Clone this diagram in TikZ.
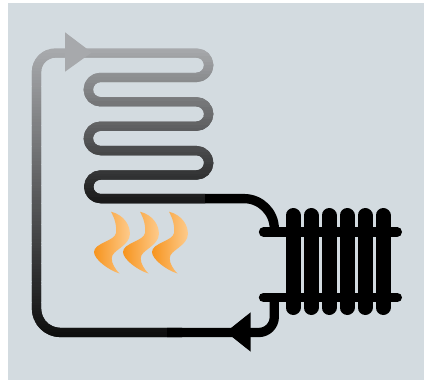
\documentclass[tikz,border=0pt]{standalone}
\usepackage{xcolor}
\usepackage{tikz}
\definecolor{wallbg}{HTML}{D3DBE0}
\definecolor{pipegray}{HTML}{A7A9AC}
\definecolor{flameA}{HTML}{F7941E}
\definecolor{flameB}{HTML}{FDCB8C}
\tikzset{
  pipe/.style={line width=9.3pt,line cap=butt,line join=round},
  fin/.style={line width=15pt,line cap=round,black},
  bar/.style={line width=9.6pt,line cap=round,black},
  tip/.style={draw=none,fill=#1}
}
% strips of one path, top to bottom, paler to darker
\newcommand{\pband}[4]{%
  \foreach \i in {0,...,#3}{%
    \pgfmathsetmacro{\py}{#1+\i/#3*(#2-#1)}%
    \pgfmathsetmacro{\pyb}{#1+(\i+1.4)/#3*(#2-#1)}%
    \pgfmathtruncatemacro{\pk}{100*\i/#3}%
    \begin{scope}
      \clip (0,\py) rectangle (424,\pyb);
      \draw[pipe,draw=black!\pk!pipegray] #4;
    \end{scope}}}
\newcommand{\pflame}[1]{%
  \shade[left color=flameA,right color=flameB,shift={(#1,0)}]
    (111,211.7) .. controls (124,215) and (130,225) .. (129.9,234)
    .. controls (129.7,246) and (112,250) .. (111.7,258)
    .. controls (111.5,264) and (116,270) .. (119.5,273.5)
    .. controls (108,270) and (94,259) .. (94,252)
    .. controls (94,243) and (115,241) .. (116,233)
    .. controls (117,225) and (114,217) .. (111,211.7) -- cycle;}
\begin{document}
\begin{tikzpicture}[x=1pt,y=-1pt]
  \useasboundingbox (0,0) rectangle (424,380);
  \fill[white] (0,0) rectangle (424,380);
  \fill[wallbg] (8,3) rectangle (424,380);
  % coil
  \pband{48}{228}{60}{(66,53) -- (196.5,53) arc[start angle=-90,end angle=90,radius=12.2]
    -- (100.5,77.4) arc[start angle=-90,end angle=-270,radius=12.2]
    -- (196.5,101.8) arc[start angle=-90,end angle=90,radius=12.2]
    -- (100.5,126.2) arc[start angle=-90,end angle=-270,radius=12.2]
    -- (196.5,150.6) arc[start angle=-90,end angle=90,radius=12.2]
    -- (100.5,175) arc[start angle=-90,end angle=-270,radius=11.8]
    -- (205,198.6)}
  % return leg
  \pband{48}{360}{104}{(70,53) -- (55.5,53) arc[start angle=-90,end angle=-180,radius=19]
    -- (36.5,308.5) arc[start angle=180,end angle=90,radius=24]
    -- (182,332.5)}
  % feed to radiator
  \draw[pipe,black] (205,198.6) -- (244,198.6) arc[start angle=-90,end angle=0,radius=30.3] -- (274.3,232);
  \draw[pipe,black] (274.3,297) -- (274.3,317) arc[start angle=0,end angle=90,radius=15.5] -- (167,332.5);
  % radiator
  \foreach \x in {293,311,329,347,365,383}{\draw[fin] (\x,215.5) -- (\x,307.5);}
  \foreach \y in {232,297.5}{\draw[bar] (263.6,\y) -- (397.2,\y);}
  % arrows
  \fill[tip=pipegray] (65,32.3) -- (91.7,52.5) -- (65,71.7) -- cycle;
  \fill[tip=black] (226,332) -- (250.7,312.3) -- (250.7,351.7) -- cycle;
  % heat
  \foreach \d in {0,29,58}{\pflame{\d}}
\end{tikzpicture}
\end{document}
